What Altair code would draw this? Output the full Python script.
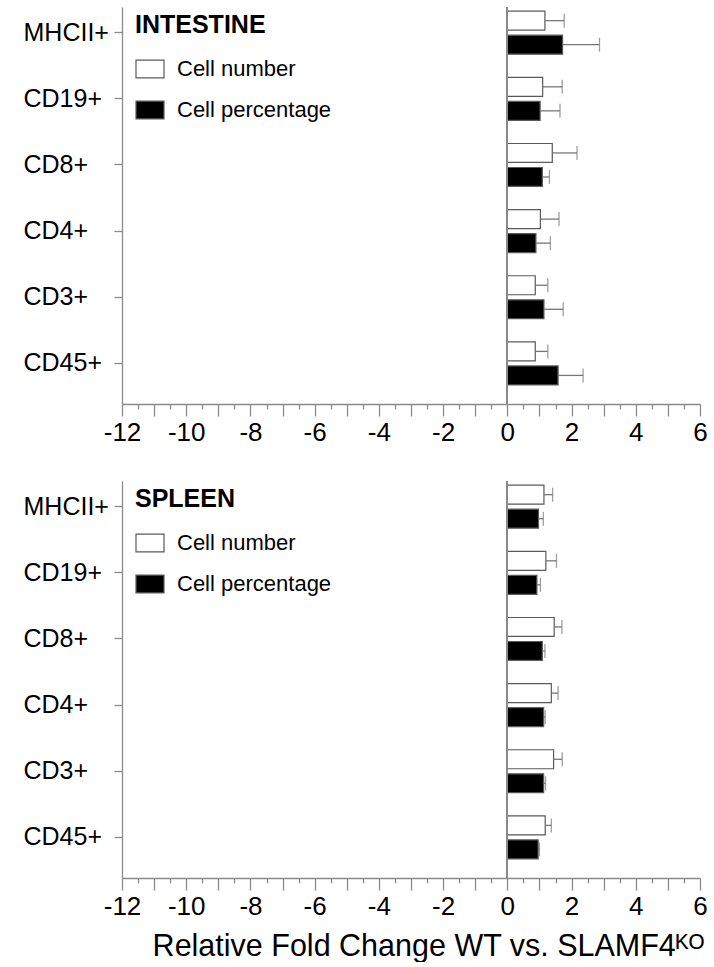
import altair as alt
import pandas as pd

categories = ["MHCII+", "CD19+", "CD8+", "CD4+", "CD3+", "CD45+"]
series = ["Cell number", "Cell percentage"]

intestine_number = [1.17, 1.10, 1.40, 1.03, 0.87, 0.87]
intestine_number_err = [0.60, 0.61, 0.77, 0.58, 0.39, 0.39]
intestine_percentage = [1.72, 1.02, 1.09, 0.89, 1.14, 1.58]
intestine_percentage_err = [1.15, 0.62, 0.22, 0.45, 0.60, 0.78]

spleen_number = [1.14, 1.20, 1.46, 1.37, 1.44, 1.18]
spleen_number_err = [0.27, 0.33, 0.24, 0.21, 0.27, 0.19]
spleen_percentage = [0.97, 0.92, 1.09, 1.13, 1.13, 0.96]
spleen_percentage_err = [0.15, 0.11, 0.08, 0.05, 0.06, 0.04]

x_ticks = [v / 2 for v in range(-24, 13)]
x_title = "Relative Fold Change WT vs. SLAMF4ᴷᴼ"

FONT = "Liberation Sans, Arial, DejaVu Sans"
GRAY = "#8a8a8a"


def make_df(num, num_err, pct, pct_err):
    rows = []
    for i, c in enumerate(categories):
        rows.append({"cell": c, "series": series[0], "value": num[i], "hi": num[i] + num_err[i]})
        rows.append({"cell": c, "series": series[1], "value": pct[i], "hi": pct[i] + pct_err[i]})
    return pd.DataFrame(rows)


def panel(df, legend_title, axis_title):
    y = alt.Y(
        "cell:N",
        sort=categories,
        scale=alt.Scale(paddingInner=0.35, paddingOuter=0.176, align=0.18),
        axis=alt.Axis(
            title=None, labelAlign="left", labelBaseline="middle", labelPadding=91,
            tickSize=8, labelFontSize=25, labelFont=FONT, labelColor="black",
            tickColor=GRAY, domainColor=GRAY, tickWidth=1.3, domainWidth=1.3,
        ),
    )
    yoff = alt.YOffset("series:N", sort=series, scale=alt.Scale(paddingInner=0.21, paddingOuter=0))
    xaxis_kw = dict(
        values=x_ticks,
        labelExpr="datum.value % 2 === 0 ? '' + datum.value : ''",
        tickSize={"condition": {"test": "datum.value % 1 === 0", "value": 12}, "value": 5},
        tickColor=GRAY, domainColor=GRAY, tickWidth=1.3, domainWidth=1.3,
        labelFontSize=26, labelFont=FONT, labelColor="black", labelPadding=3,
        labelFlush=False, labelOverlap=False, grid=False,
        titleFontSize=30.5, titleFont=FONT, titleFontWeight="normal", titleColor="black",
        titlePadding=12,
    )
    if axis_title:
        xaxis = alt.Axis(title=axis_title, titleX=306, titleAlign="center", titleAnchor="start", **xaxis_kw)
    else:
        xaxis = alt.Axis(title=None, **xaxis_kw)
    xscale = alt.Scale(domain=[-12, 6], nice=False, zero=False)

    base = alt.Chart(df)
    bars = base.mark_bar(stroke="#5a5a5a", strokeWidth=1.2).encode(
        x=alt.X("value:Q", scale=xscale, axis=xaxis),
        y=y,
        yOffset=yoff,
        fill=alt.Fill(
            "series:N",
            scale=alt.Scale(domain=series, range=["white", "black"]),
            legend=alt.Legend(
                title=legend_title, orient="none", legendX=13, legendY=6, padding=0,
                titleFontSize=25, titleFontWeight="bold", titleFont=FONT, titleColor="black",
                titlePadding=16, labelFontSize=22, labelFont=FONT, labelColor="black",
                labelOffset=12, symbolType="M-1,-0.64H1V0.64H-1Z", symbolSize=784,
                symbolStrokeColor="#5a5a5a", symbolStrokeWidth=1.2, rowPadding=14,
                symbolOpacity=1,
            ),
        ),
    )
    err = base.mark_rule(color="#777777", strokeWidth=1.3).encode(
        x=alt.X("value:Q", scale=xscale, axis=xaxis), x2="hi:Q", y=y, yOffset=yoff
    )
    caps = base.mark_tick(color="#777777", thickness=1.3, size=14).encode(
        x=alt.X("hi:Q", scale=xscale, axis=xaxis), y=y, yOffset=yoff
    )
    zero = base.mark_rule(color=GRAY, strokeWidth=1.3).encode(x=alt.datum(0, scale=xscale, axis=xaxis))
    return alt.layer(bars, err, caps, zero).properties(width=578, height=397)


top = panel(make_df(intestine_number, intestine_number_err, intestine_percentage, intestine_percentage_err), "INTESTINE", None)
bottom = panel(make_df(spleen_number, spleen_number_err, spleen_percentage, spleen_percentage_err), "SPLEEN", x_title)

chart = (
    alt.vconcat(top, bottom, spacing=35)
    .resolve_scale(fill="independent")
    .resolve_legend(fill="independent")
    .configure_view(stroke=None)
    .properties(padding={"left": 23, "top": 6, "right": 0, "bottom": 0}, background="white")
)

chart.save("out.html", embed_options={"renderer": "svg", "actions": False})
